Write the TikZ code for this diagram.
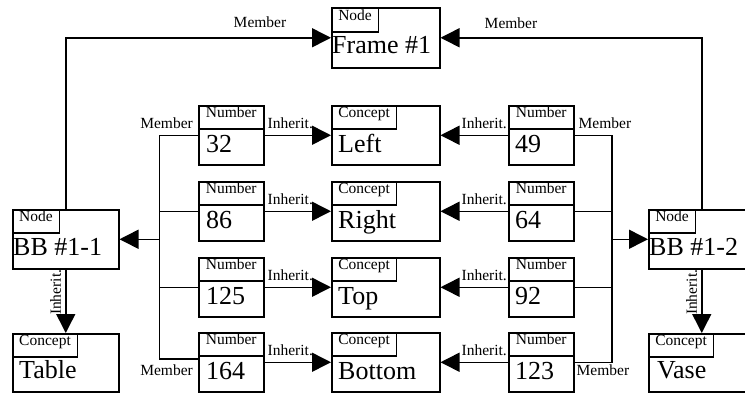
\documentclass[tikz,border=0pt]{standalone}
\usepackage{fontspec}
\setmainfont{Liberation Serif}
\usetikzlibrary{arrows.meta}
\newcommand\valfont{\fontsize{26}{26}\selectfont}
\newcommand\lblfont{\fontsize{15.5}{15.5}\selectfont}

\begin{document}
\begin{tikzpicture}[x=1pt,y=-1pt,
	box/.style={draw,line width=1.5pt,anchor=north west,inner sep=0pt,minimum height=59pt},
	tab/.style={draw,line width=1.5pt,anchor=north west,inner xsep=6.5pt,inner ysep=0pt,text height=12pt,text depth=11pt,font=\lblfont},
	val/.style={anchor=base west,inner sep=0pt,font=\valfont},
	lbl/.style={inner sep=0pt,font=\lblfont},
	wire/.style={line width=1.5pt},
	arr/.style={line width=1.5pt,-{Triangle[length=19pt,width=19pt]}}]
			\useasboundingbox (0,0) rectangle (745,392);
			% frame and the two bounding boxes
			\node[box,minimum width=108pt,minimum height=60pt] (frame) at (331,7) {};
			\node[tab,text height=13pt] (frametab) at (frame.north west) {Node};
			\node[val] (frameval) at ([xshift=1pt,yshift=-46pt]frame.north west) {Frame \#1};
			\node[box,minimum width=106pt] (bb1) at (12,209) {};
			\node[tab] (bb1tab) at (bb1.north west) {Node};
			\node[val] (bb1val) at ([xshift=1pt,yshift=-46pt]bb1.north west) {BB \#1-1};
			\node[box,minimum width=106pt] (bb2) at (648,209) {};
			\node[tab] (bb2tab) at (bb2.north west) {Node};
			\node[val] (bb2val) at ([xshift=1pt,yshift=-46pt]bb2.north west) {BB \#1-2};
			\node[box,minimum width=106pt,minimum height=58pt] (table) at (12,333) {};
			\node[tab] (tabletab) at (table.north west) {Concept};
			\node[val] (tableval) at ([xshift=7pt,yshift=-45pt]table.north west) {Table};
			\node[box,minimum width=106pt,minimum height=58pt] (vase) at (648,333) {};
			\node[tab] (vasetab) at (vase.north west) {Concept};
			\node[val] (vaseval) at ([xshift=9pt,yshift=-45pt]vase.north west) {Vase};
			% the four rows
			\foreach \i/\t/\a/\c/\b in {1/105/32/Left/49,2/181/86/Right/64,3/257/125/Top/92,4/332/164/Bottom/123}{
				\node[box,minimum width=65pt] (ln\i) at (198,\t) {};
				\node[tab,minimum width=65pt] (lt\i) at (ln\i.north west) {Number};
				\node[val] (lv\i) at ([xshift=8pt,yshift=-47pt]ln\i.north west) {\a};
				\node[box,minimum width=108pt] (cn\i) at (331,\t) {};
				\node[tab] (ct\i) at (cn\i.north west) {Concept};
				\node[val] (cv\i) at ([xshift=7pt,yshift=-47pt]cn\i.north west) {\c};
				\node[box,minimum width=65pt] (rn\i) at (508,\t) {};
				\node[tab,minimum width=65pt] (rt\i) at (rn\i.north west) {Number};
				\node[val] (rv\i) at ([xshift=7pt,yshift=-47pt]rn\i.north west) {\b};
				\draw[arr] (ln\i.east) -- (cn\i.west);
				\draw[arr] (rn\i.west) -- (cn\i.east);
				\node[lbl,anchor=base west] (li\i) at ([xshift=3pt,yshift=-23pt]ln\i.north east) {Inherit.};
				\node[lbl,anchor=base east] (ri\i) at ([xshift=-1pt,yshift=-23pt]rn\i.north west) {Inherit.};
			}
			% member links
			\coordinate (lb) at ([xshift=40pt]bb1.east);
			\coordinate (rb) at ([xshift=-36pt]bb2.west);
			\draw[wire] (ln1.west) -- (ln1.west -| lb) -- ([yshift=3.5pt]ln4.west -| lb) -- ([yshift=3.5pt]ln4.west);
			\draw[wire] (ln2.west) -- (ln2.west -| lb);
			\draw[wire] (ln3.west) -- (ln3.west -| lb);
			\draw[arr] (lb) -- (bb1.east);
			\draw[wire] (rn1.east) -- (rn1.east -| rb) -- (rn4.east -| rb) -- (rn4.east);
			\draw[wire] (rn2.east) -- (rn2.east -| rb);
			\draw[wire] (rn3.east) -- (rn3.east -| rb);
			\draw[arr] (rb) -- (bb2.west);
			\node[lbl,anchor=base east] (lm1) at ([xshift=-5pt,yshift=-23pt]ln1.north west) {Member};
			\node[lbl,anchor=base west] (rm1) at ([xshift=4pt,yshift=-23pt]rn1.north east) {Member};
			\node[lbl,anchor=base east] (lm4) at ([xshift=-5pt,yshift=17pt]ln4.south west) {Member};
			\node[lbl,anchor=base west] (rm4) at ([xshift=2pt,yshift=17pt]rn4.south east) {Member};
			% up to the frame
			\draw[arr] (bb1.north) |- (frame.west);
			\draw[arr] (bb2.north) |- (frame.east);
			\node[lbl,anchor=base] (fm1) at (260,27) {Member};
			\node[lbl,anchor=base] (fm2) at (511,28) {Member};
			% down to the concepts
			\draw[arr] (bb1.south) -- node[lbl,rotate=90,anchor=south,inner sep=4pt,pos=0.36] (ti1) {Inherit.} (table.north);
			\draw[arr] (bb2.south) -- node[lbl,rotate=90,anchor=south,inner sep=4pt,pos=0.36] (ti2) {Inherit.} (vase.north);
		\end{tikzpicture}
\end{document}
